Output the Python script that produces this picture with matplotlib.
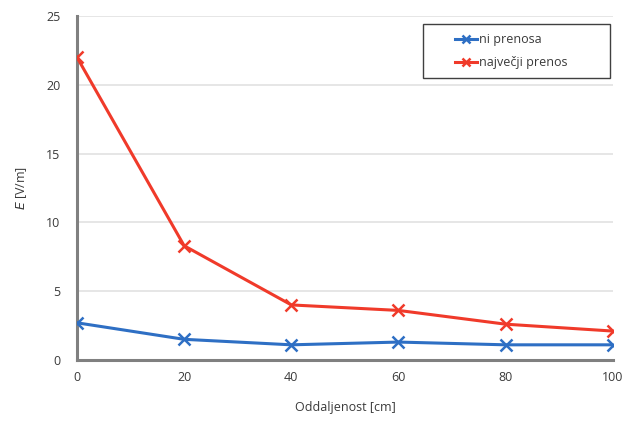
import matplotlib.pyplot as plt
from matplotlib.patches import Rectangle

# Data
distance = [0, 20, 40, 60, 80, 100]
ni_prenosa = [2.7, 1.5, 1.1, 1.3, 1.1, 1.1]
najvecji_prenos = [22.0, 8.3, 4.0, 3.6, 2.6, 2.1]

plt.rcParams['font.family'] = ['Open Sans', 'DejaVu Sans']

fig = plt.figure(figsize=(6.23, 4.21), dpi=100)
ax = fig.add_axes([0.1236, 0.145, 0.86, 0.817])

ax.plot(distance, ni_prenosa, color='#2e6fc4', lw=2.2, marker='x',
        markersize=8, mew=1.8, label='ni prenosa', zorder=3)
ax.plot(distance, najvecji_prenos, color='#f03a2a', lw=2.2, marker='x',
        markersize=8, mew=1.8, label='največji prenos', zorder=3)

ax.set_xlim(0, 100)
ax.set_ylim(0, 25)
ax.set_xticks(distance)
ax.set_yticks(range(0, 26, 5))
ax.grid(axis='y', color='#e2e2e2', lw=1.2)
ax.set_axisbelow(True)

for s in ['top', 'right']:
    ax.spines[s].set_visible(False)
for s in ['left', 'bottom']:
    ax.spines[s].set_color('#808080')
    ax.spines[s].set_linewidth(2.2)
ax.tick_params(length=0, labelsize=9, colors='#3a3a3a', pad=8)
ax.tick_params(axis='y', pad=12)

ax.set_xlabel('Oddaljenost [cm]', fontsize=9, color='#3a3a3a', labelpad=12)
ax.set_ylabel('$E$ [V/m]', fontsize=9, color='#3a3a3a', labelpad=12)

# legend box drawn separately (wider than the legend content)
ax.add_patch(Rectangle((0.645, 0.82), 0.349, 0.157, transform=ax.transAxes,
                       facecolor='white', edgecolor='#404040', lw=1.0,
                       zorder=4, clip_on=False))
leg = ax.legend(loc='center', bbox_to_anchor=(0.81, 0.898), fontsize=9,
                frameon=False, handlelength=1.8, markerscale=0.7,
                handletextpad=0.1, labelspacing=0.8)
leg.set_zorder(5)
for t in leg.get_texts():
    t.set_color('#3a3a3a')

fig.savefig('out.png', dpi=100)
